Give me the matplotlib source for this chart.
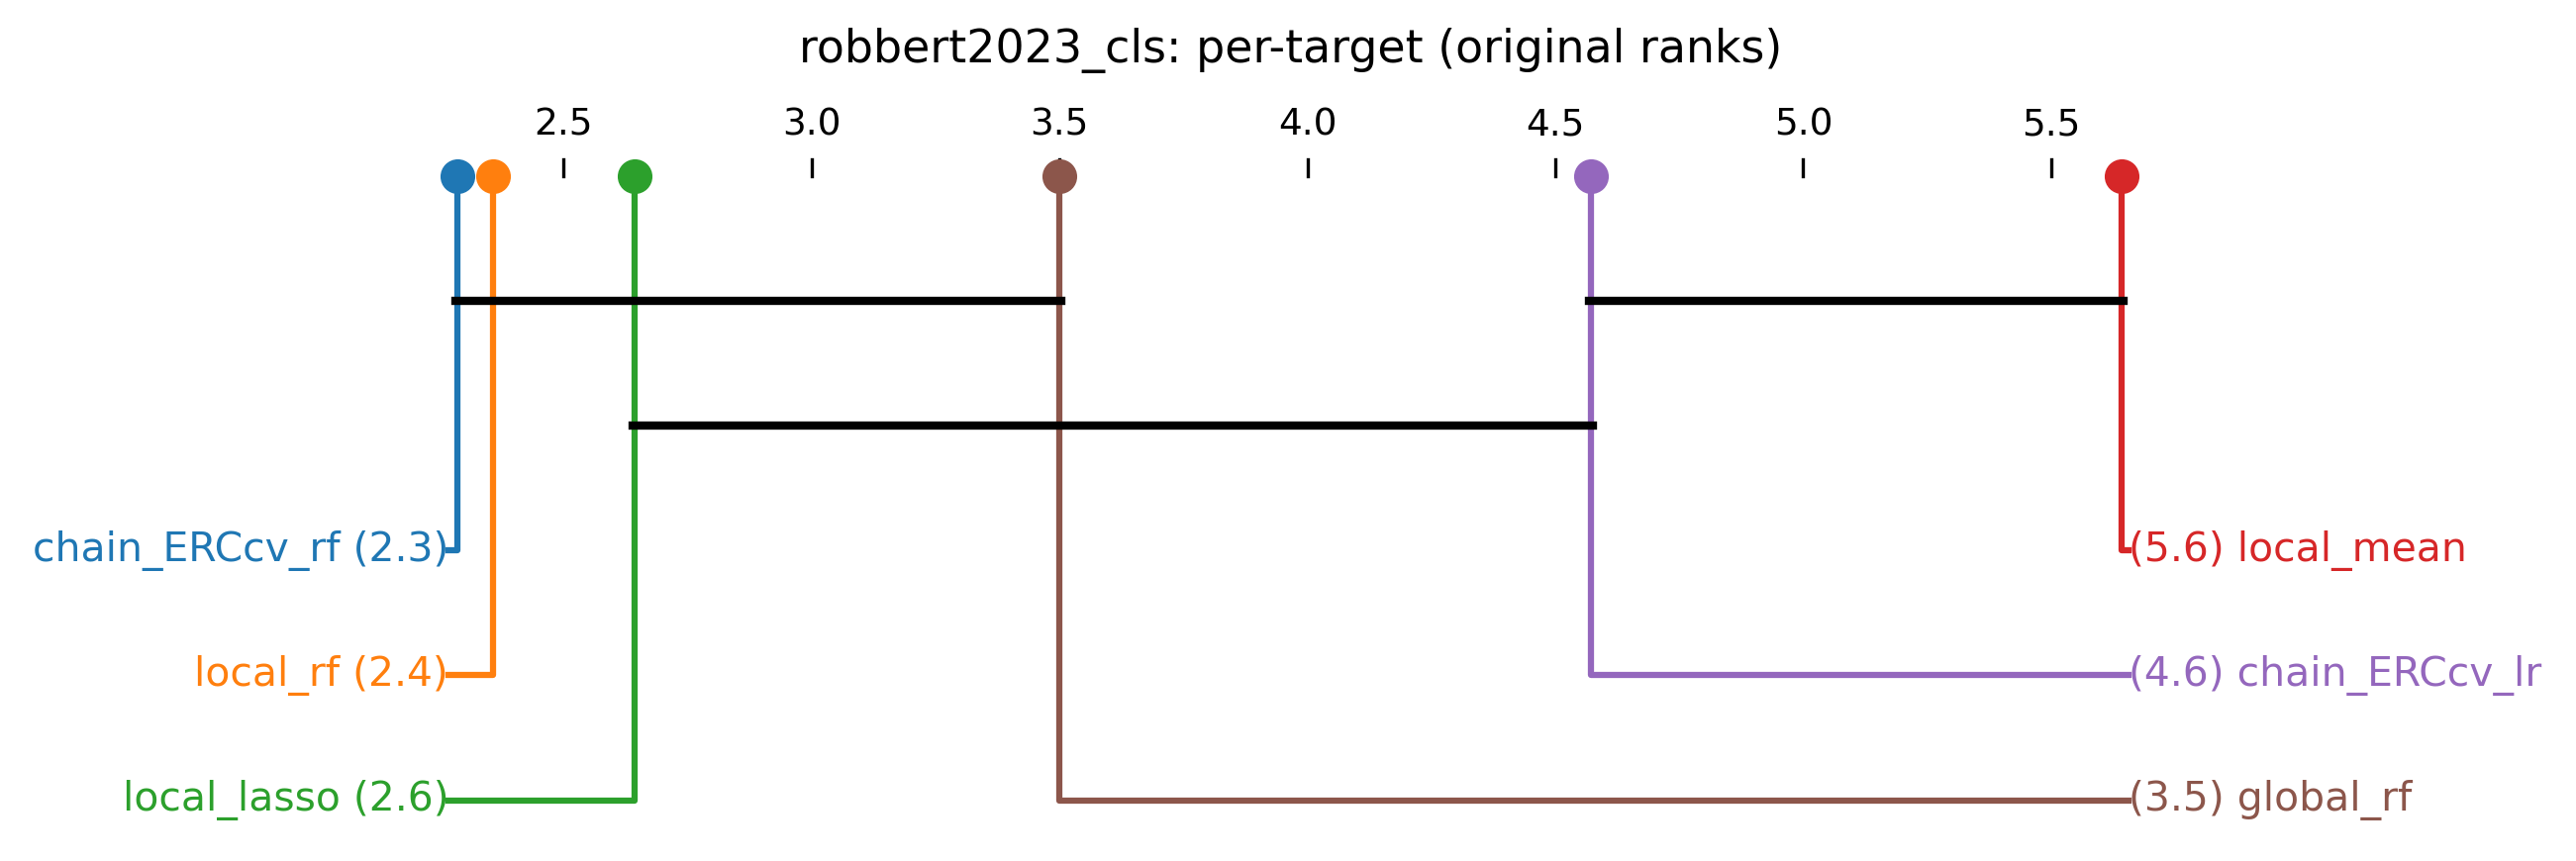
import matplotlib
matplotlib.use("Agg")
import matplotlib.pyplot as plt

names = ["chain_ERCcv_rf", "local_rf", "local_lasso", "global_rf", "chain_ERCcv_lr", "local_mean"]
ranks = [2.285, 2.357, 2.643, 3.5, 4.572, 5.643]
shown = ["2.3", "2.4", "2.6", "3.5", "4.6", "5.6"]
colors = ["#1f77b4", "#ff7f0e", "#2ca02c", "#8c564b", "#9467bd", "#d62728"]
# cliques (groups with no significant difference)
cliques = [(2.285, 3.5), (4.572, 5.643), (2.643, 4.572)]
ticks = [2.5, 3.0, 3.5, 4.0, 4.5, 5.0, 5.5]

fig = plt.figure(figsize=(2603 / 300, 870 / 300), dpi=300)
ax = fig.add_axes([0, 0, 1, 1])
# layout in display pixels (1568 x 524 view), x in rank units
px = 301.67
x0 = 2.5 - 343 / px
ax.set_xlim(x0, x0 + 1568 / px)
ax.set_ylim(524, 0)
ax.axis("off")

ax.text(2.5 + (785 - 343) / px, 31, "robbert2023_cls: per-target (original ranks)",
        ha="center", va="center", fontsize=11)
for t in ticks:
    ax.plot([t, t], [97, 107], color="black", lw=0.8)
    ax.text(t, 76, f"{t:.1f}", ha="center", va="center", fontsize=9)

left_x = 2.5 - (343 - 273) / px
right_x = 2.5 + (1295 - 343) / px
ext = 1 / px
ys = [335, 411, 487, 487, 411, 335]
for i, (n, r, s, c) in enumerate(zip(names, ranks, shown, colors)):
    y = ys[i]
    if i < 3:
        ax.plot([r, r, left_x], [107, y, y], color=c, lw=1.5, zorder=2)
        ax.text(left_x, y, f"{n} ({s})", color=c, ha="right", va="center", fontsize=9.8)
    else:
        ax.plot([r, r, right_x], [107, y, y], color=c, lw=1.5, zorder=2)
        ax.text(right_x, y, f"({s}) {n}", color=c, ha="left", va="center", fontsize=9.8)
    ax.scatter([r], [107], s=55, color=c, zorder=4)

for (a, b), y in zip(cliques, [183, 183, 259]):
    ax.plot([a - ext, b + ext], [y, y], color="black", lw=2.0, zorder=3)

fig.savefig("out.png", dpi=300)
